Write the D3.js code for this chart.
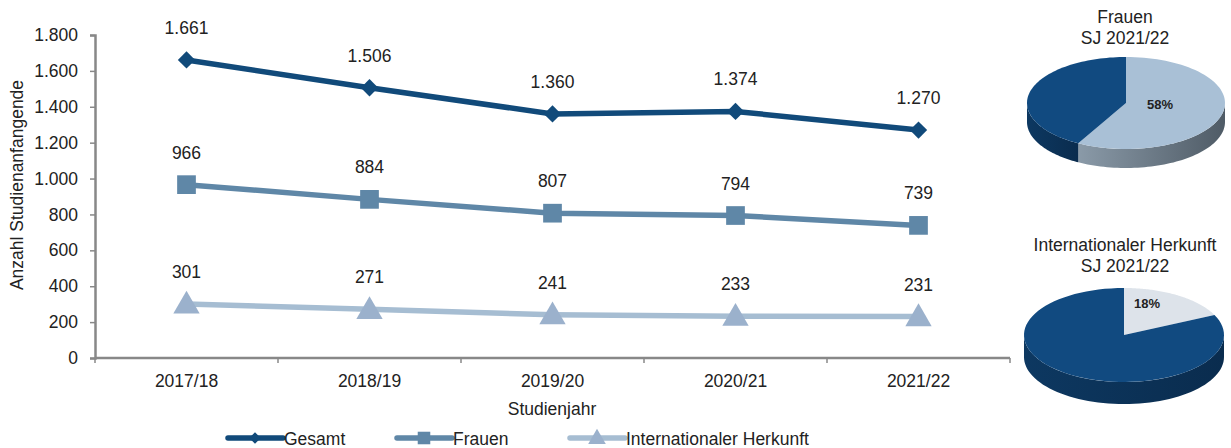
<!DOCTYPE html>
<html><head><meta charset="utf-8">
<script src="https://cdn.jsdelivr.net/npm/d3@7"></script>
<style>body{margin:0;background:#fff}svg{display:block}text{font-family:"Liberation Sans",Arial,sans-serif;fill:#222}</style>
</head><body><svg id="c" width="1231" height="448"></svg>
<script>
const categories = ["2017/18","2018/19","2019/20","2020/21","2021/22"];
const gesamt = [1661,1506,1360,1374,1270];
const frauen = [966,884,807,794,739];
const international = [301,271,241,233,231];
const yTicks = [0,200,400,600,800,1000,1200,1400,1600,1800];
const seriesNames = ["Gesamt","Frauen","Internationaler Herkunft"];
const pieFrauen = [58,42];
const pieIntl = [18,82];

const FS = "17.5px";
const loc = d3.formatLocale({decimal:",",thousands:".",grouping:[3],currency:["","€"]});
const fmt = loc.format(",d");

const svg = d3.select("#c");
const x = d3.scaleBand().domain(categories).range([95,1010]);
const y = d3.scaleLinear().domain([0,1800]).range([358,35]);

// axes
const gy = svg.append("g").attr("transform","translate(95,0)")
  .call(d3.axisLeft(y).tickValues(yTicks).tickFormat(fmt).tickSize(5).tickPadding(12));
const gx = svg.append("g").attr("transform","translate(0,358)")
  .call(d3.axisBottom(x).tickSize(0).tickPadding(17));
gx.selectAll(".tick").append("line").attr("x1",x.bandwidth()/2).attr("x2",x.bandwidth()/2).attr("y2",5).attr("stroke","#888").attr("stroke-width",1.5);
gx.append("line").attr("x1",95).attr("x2",95).attr("y2",5).attr("stroke","#888").attr("stroke-width",1.5);
[gx,gy].forEach(g=>{
  g.select(".domain").attr("stroke","#888").attr("stroke-width",2.5);
  g.selectAll(".tick line").attr("stroke","#888").attr("stroke-width",1.5);
  g.selectAll("text").style("font-family","Liberation Sans, Arial, sans-serif").style("font-size",FS).attr("fill","#222");
});
gx.select(".domain").attr("d","M95,0H1010");

svg.append("text").attr("x",552).attr("y",415).attr("text-anchor","middle").style("font-size",FS).text("Studienjahr");
svg.append("text").attr("transform","translate(23,185) rotate(-90)").attr("text-anchor","middle").style("font-size",FS).text("Anzahl Studienanfangende");

const cx = d => x(d)+x.bandwidth()/2;
const diamond = {draw(ctx,size){const r=Math.sqrt(size/2);ctx.moveTo(0,-r);ctx.lineTo(r,0);ctx.lineTo(0,r);ctx.lineTo(-r,0);ctx.closePath();}};
const series = [
  {name:seriesNames[0], values:gesamt, color:"#114a7a", sym:diamond, size:150},
  {name:seriesNames[1], values:frauen, color:"#5f87a7", sym:d3.symbolSquare, size:350},
  {name:seriesNames[2], values:international, color:"#a6bdd2", sym:d3.symbolTriangle, size:300}
];
const symColor = ["#114a7a","#5f87a7","#9bb1cc"];
const line = d3.line().x((d,i)=>cx(categories[i])).y(d=>y(d));
series.forEach((s,k)=>{
  svg.append("path").attr("d",line(s.values)).attr("fill","none").attr("stroke",s.color).attr("stroke-width",5.5);
  s.values.forEach((v,i)=>{
    svg.append("path").attr("d",d3.symbol().type(s.sym).size(s.size)())
      .attr("transform",`translate(${cx(categories[i])},${y(v)+(k==2?2:0)})`).attr("fill",symColor[k]);
    svg.append("text").attr("x",cx(categories[i])).attr("y",y(v)-26).attr("text-anchor","middle").style("font-size",FS).text(fmt(v));
  });
});

// legend
const legX = [228,397,570];
series.forEach((s,k)=>{
  const g = svg.append("g").attr("transform",`translate(${legX[k]},438)`);
  g.append("line").attr("x1",0).attr("x2",55).attr("stroke",s.color).attr("stroke-width",5.5).attr("stroke-linecap","round");
  g.append("path").attr("d",d3.symbol().type(s.sym).size(s.size*0.45)()).attr("transform",`translate(27,${k==2?1:0})`).attr("fill",symColor[k]);
  g.append("text").attr("x",56).attr("y",6.5).style("font-size",FS).text(s.name);
});

// 3D pies
const defs = svg.append("defs");
function grad(id, c1, c2){
  const g = defs.append("linearGradient").attr("id",id).attr("x1","0").attr("x2","1").attr("y1","0").attr("y2","0");
  g.append("stop").attr("offset","0").attr("stop-color",c1);
  g.append("stop").attr("offset","1").attr("stop-color",c2);
}
grad("sideDark","#0d3861","#0a2c4e");
grad("sideLight","#8a9aa8","#4f5b66");
grad("sidePale","#b8c0c8","#8a949e");

function pie3d(data, cxp, cyp, rx, ry, depth, tops, sides, label, lx, ly){
  const arcs = d3.pie().sort(null)(data);
  const pt = (a, dy=0) => [cxp + rx*Math.sin(a), cyp - ry*Math.cos(a) + dy];
  const g = svg.append("g");
  arcs.forEach((a,i)=>{
    const s = Math.max(a.startAngle, Math.PI/2), e = Math.min(a.endAngle, 3*Math.PI/2);
    if (e > s){
      const n = 60;
      const top = d3.range(n+1).map(j=>pt(s+(e-s)*j/n));
      const bot = d3.range(n+1).map(j=>pt(e-(e-s)*j/n, depth));
      g.append("path").attr("d","M"+top.concat(bot).map(p=>p.join(",")).join("L")+"Z").attr("fill",`url(#${sides[i]})`);
    }
  });
  arcs.forEach((a,i)=>{
    const n = 80;
    const pts = d3.range(n+1).map(j=>pt(a.startAngle+(a.endAngle-a.startAngle)*j/n));
    g.append("path").attr("d","M"+[cxp,cyp].join(",")+"L"+pts.map(p=>p.join(",")).join("L")+"Z").attr("fill",tops[i]);
  });
  g.append("text").attr("x",lx).attr("y",ly).attr("text-anchor","middle").style("font-size","13px").style("font-weight","bold").text(label);
}
pie3d(pieFrauen,1126,103,99,46,19,["#a9c0d6","#114a80"],["sideLight","sideDark"],pieFrauen[0]+"%",1160,109);
pie3d(pieIntl,1124,335,100,47,22,["#dde3ea","#114a80"],["sidePale","sideDark"],pieIntl[0]+"%",1147,308);

const titles = [[["Frauen","SJ 2021/22"],17],[["Internationaler Herkunft","SJ 2021/22"],245]];
titles.forEach(([lines,y0])=>{
  lines.forEach((t,i)=>svg.append("text").attr("x",1125).attr("y",y0+i*21+6).attr("text-anchor","middle").style("font-size",FS).text(t));
});
</script></body></html>
